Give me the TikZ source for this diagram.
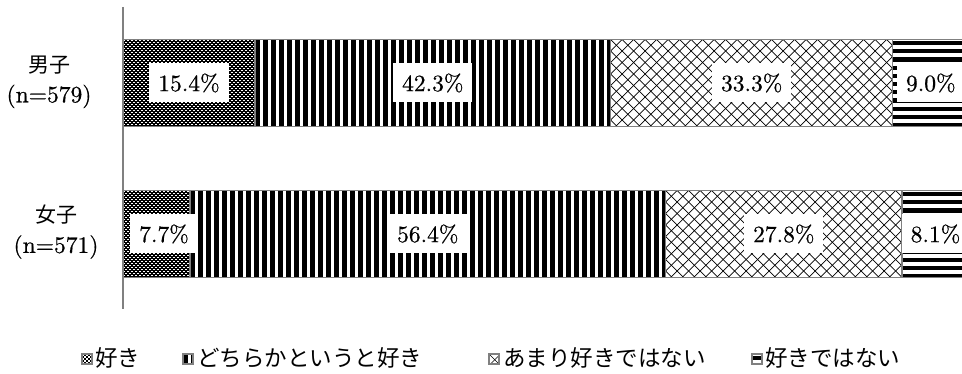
\documentclass[tikz,border=0pt]{standalone}
\usepackage{fontspec}
\newfontfamily\jp{Noto Sans CJK JP}
\newfontfamily\numfont{lmroman10-regular.otf}[FakeBold=0.6]
\definecolor{edgegray}{RGB}{128,128,128}

% segment fillers: #1=x0 #2=y0 #3=x1 #4=y1
\newcommand\segK[4]{%
  \begin{scope}
    \clip (#1,#2) rectangle (#3,#4);
    \fill[black] (#1,#2) rectangle (#3,#4);
    \foreach \i in {0,...,34}{\foreach \j in {0,...,22}{%
      \fill[white] ({#1+\i*4+0.4},{#2+\j*4+0.4}) rectangle ++(1.5,1.5);
      \fill[white] ({#1+\i*4+2.4},{#2+\j*4+2.4}) rectangle ++(1.5,1.5);}}
  \end{scope}
  \draw[seg] (#1,#2) rectangle (#3,#4);}
\newcommand\segV[4]{%
  \begin{scope}
    \clip (#1,#2) rectangle (#3,#4);
    \fill[white] (#1,#2) rectangle (#3,#4);
    \foreach \i in {0,...,62}{\fill[black] ({#1+\i*8},#2) rectangle ++(4.5,{#4-#2});}
  \end{scope}
  \draw[seg] (#1,#2) rectangle (#3,#4);}
\newcommand\segD[4]{%
  \begin{scope}
    \clip (#1,#2) rectangle (#3,#4);
    \fill[white] (#1,#2) rectangle (#3,#4);
    \foreach \i in {-9,...,36}{%
      \draw[diag] ({#1+\i*11.5},#2) -- ++(100,100);
      \draw[diag] ({#1+\i*11.5},#2) -- ++(-100,100);}
  \end{scope}
  \draw[seg] (#1,#2) rectangle (#3,#4);}
\newcommand\segH[4]{%
  \begin{scope}
    \clip (#1,#2) rectangle (#3,#4);
    \fill[white] (#1,#2) rectangle (#3,#4);
    \foreach \j in {0,...,11}{\fill[black] (#1,{#2+1.5+\j*8.2}) rectangle ({#3},{#2+5.7+\j*8.2});}
  \end{scope}
  \draw[seg] (#1,#2) rectangle (#3,#4);}

\begin{document}
\begin{tikzpicture}[x=1pt, y=-1pt,
  seg/.style={draw=edgegray, line width=1.3pt},
  diag/.style={draw=black, line width=0.7pt},
  axisline/.style={draw=edgegray, line width=1.4pt},
  lbl/.style={fill=white, inner xsep=9pt, inner ysep=0pt, minimum height=39pt,
              font=\numfont\fontsize{23.5}{28}\selectfont},
  cat/.style={align=center, font=\numfont\fontsize{23.5}{30}\selectfont},
  legtext/.style={anchor=west, inner sep=0pt, font=\jp\fontsize{22.5}{26}\selectfont}]
\useasboundingbox (0,0) rectangle (962,374);
\clip (0,0) rectangle (962,374);
\fill[white] (0,0) rectangle (962,374);

% bar: boys
\segK{123}{39.5}{255}{126.5}
\segV{255}{39.5}{610.7}{126.5}
\segD{610.7}{39.5}{892.7}{126.5}
\segH{892.7}{39.5}{970}{126.5}
% bar: girls
\segK{123}{190.5}{190}{277.5}
\segV{190}{190.5}{665.7}{277.5}
\segD{665.7}{190.5}{902}{277.5}
\segH{902}{190.5}{970}{277.5}

\draw[axisline] (123,7) -- (123,309);

\node[lbl] (m1) at (189,83) {15.4\%};
\node[lbl] (m2) at (432.8,83) {42.3\%};
\node[lbl] (m3) at (751.7,83) {33.3\%};
\node[lbl] (m4) at (930.8,83) {9.0\%};
\node[lbl] (f1) at (164,234) {7.7\%};
\node[lbl] (f2) at (427.8,234) {56.4\%};
\node[lbl] (f3) at (783.8,234) {27.8\%};
\node[lbl] (f4) at (935.5,234) {8.1\%};

\node[cat] (boys) at (49,82) {{\jp\fontsize{21}{30}\selectfont 男子}\\(n=579)};
\node[cat] (girls) at (56,232) {{\jp\fontsize{21}{30}\selectfont 女子}\\(n=571)};

% legend
\segK{82}{354}{92}{364}
\node[legtext] (l1) at (95,358) {好き};
\segV{183}{354}{193}{364}
\node[legtext] (l2) at (197,358) {どちらかというと好き};
\segD{489}{354}{499}{364}
\node[legtext] (l3) at (503,358) {あまり好きではない};
\segH{752}{354}{762}{364}
\node[legtext] (l4) at (765,358) {好きではない};
\end{tikzpicture}
\end{document}
